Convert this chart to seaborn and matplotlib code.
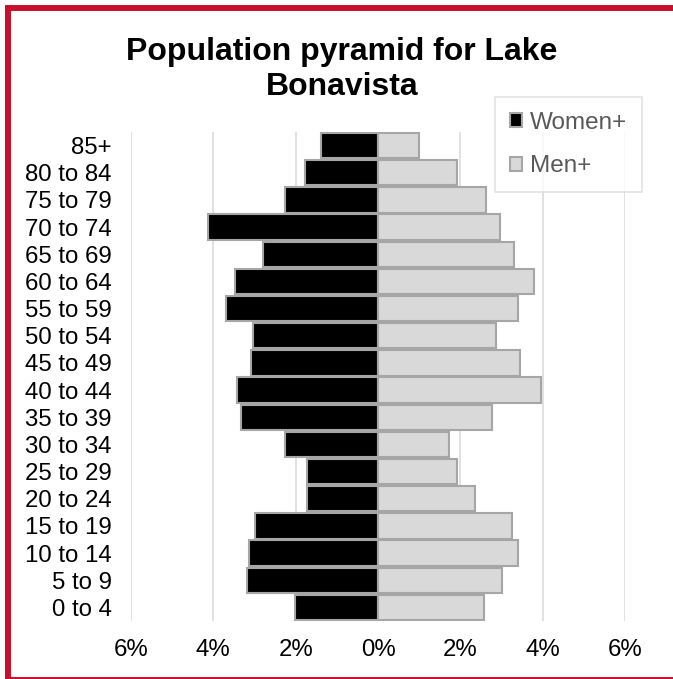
import matplotlib
matplotlib.use("Agg")
import matplotlib.pyplot as plt
import numpy as np
import pandas as pd
import seaborn as sns
from matplotlib.patches import Rectangle
from matplotlib.ticker import FuncFormatter

ages = ["85+", "80 to 84", "75 to 79", "70 to 74", "65 to 69", "60 to 64",
        "55 to 59", "50 to 54", "45 to 49", "40 to 44", "35 to 39", "30 to 34",
        "25 to 29", "20 to 24", "15 to 19", "10 to 14", "5 to 9", "0 to 4"]
women = [1.38, 1.77, 2.26, 4.13, 2.79, 3.47, 3.69, 3.03, 3.08, 3.42, 3.33, 2.26,
         1.72, 1.72, 2.99, 3.13, 3.18, 2.01]
men = [0.99, 1.92, 2.62, 2.96, 3.30, 3.79, 3.40, 2.86, 3.45, 3.96, 2.77, 1.72,
       1.92, 2.35, 3.25, 3.40, 3.01, 2.57]

df = pd.concat([
    pd.DataFrame({"age": ages, "pct": -np.array(women), "sex": "Women+"}),
    pd.DataFrame({"age": ages, "pct": np.array(men), "sex": "Men+"}),
])

sns.set_style("white")
plt.rcParams["font.family"] = ["Liberation Sans", "DejaVu Sans"]

fig = plt.figure(figsize=(6.73, 6.79), dpi=100)
ax = fig.add_axes([131 / 673, 1 - 621 / 679, 494 / 673, 489 / 679])

sns.barplot(data=df, y="age", x="pct", hue="sex", order=ages, dodge=False,
            palette={"Women+": "black", "Men+": "#D9D9D9"},
            edgecolor="#A6A6A6", linewidth=1.5, width=0.93, ax=ax)

ax.set_xlim(-6, 6)
ax.set_xticks([-6, -4, -2, 0, 2, 4, 6])
ax.xaxis.set_major_formatter(FuncFormatter(lambda v, p: f"{abs(v):.0f}%"))
ax.set_xlabel("")
ax.set_ylabel("")
ax.grid(axis="x", color="#D9D9D9", linewidth=1.1)
ax.set_axisbelow(True)
sns.despine(ax=ax, left=True, bottom=True)
ax.tick_params(axis="y", length=0, pad=14, labelsize=17.3, labelcolor="black")
ax.tick_params(axis="x", length=0, pad=13, labelsize=17.3, labelcolor="black")

handles, labels = ax.get_legend_handles_labels()
ax.get_legend().remove()
leg = ax.legend(handles, labels, loc="upper left",
                bbox_to_anchor=(495 / 673, 1 - 97 / 679),
                bbox_transform=fig.transFigure, frameon=True, fancybox=False,
                edgecolor="#D9D9D9", fontsize=17.5, handlelength=0.5,
                handleheight=0.5, handletextpad=0.35, labelspacing=0.9,
                borderpad=0.6, borderaxespad=0)
leg.get_frame().set_linewidth(1.1)
for t in leg.get_texts():
    t.set_color("#595959")

fig.text(0.508, 1 - 37 / 679, "Population pyramid for Lake\nBonavista",
         ha="center", va="top", fontsize=23, fontweight="bold",
         color="black", linespacing=1.2)

fig.patches.append(Rectangle((8 / 673, -1 / 679), 680 / 673, 672 / 679,
                             transform=fig.transFigure, fill=False,
                             edgecolor="#C8102E", linewidth=4.3))

fig.savefig("out.png", dpi=100)
